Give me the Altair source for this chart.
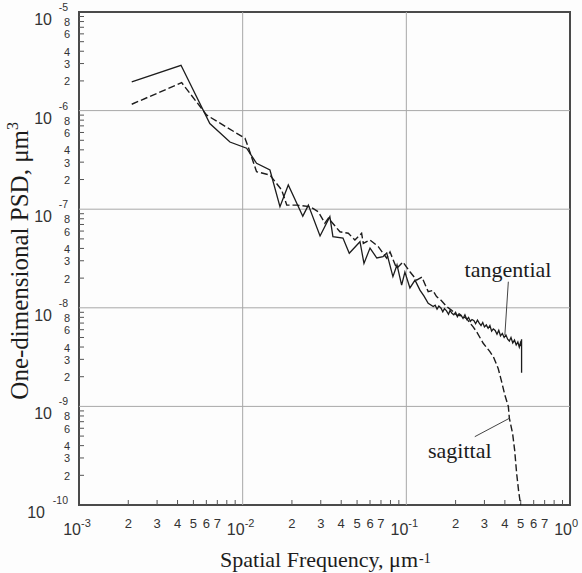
import altair as alt
import pandas as pd

# ---------------- data ----------------
tan_f = [0.0021, 0.0042, 0.0063, 0.00836, 0.01057, 0.01216, 0.01468, 0.0169, 0.019, 0.0233,
         0.0252, 0.0297, 0.0341, 0.0356, 0.041, 0.0448, 0.0521, 0.0551, 0.060, 0.066,
         0.072, 0.0759, 0.0828, 0.0877, 0.0936, 0.098, 0.1052, 0.113, 0.1211, 0.128,
         0.136, 0.146,
         0.150, 0.154, 0.158, 0.163, 0.167, 0.171, 0.176, 0.181, 0.185, 0.190,
         0.195, 0.200, 0.205, 0.210, 0.216, 0.222, 0.228, 0.234, 0.240, 0.246,
         0.252, 0.259, 0.265, 0.272, 0.279, 0.286, 0.293, 0.300, 0.308, 0.316,
         0.324, 0.332, 0.340, 0.349, 0.358, 0.367, 0.376, 0.386, 0.396, 0.406,
         0.416, 0.426, 0.436, 0.447, 0.458, 0.469, 0.480, 0.490, 0.498, 0.503,
         0.506, 0.506]
tan_psd = [1.96e-6, 2.88e-6, 7.4e-7, 4.8e-7, 4.15e-7, 2.92e-7, 2.5e-7, 1.06e-7, 1.76e-7, 8.5e-8,
           1.1e-7, 5.35e-8, 8.4e-8, 5.26e-8, 5.1e-8, 3.57e-8, 4.68e-8, 2.82e-8, 4.04e-8, 3.2e-8,
           3.3e-8, 3.6e-8, 2.07e-8, 2.72e-8, 1.7e-8, 2.3e-8, 1.59e-8, 1.91e-8, 1.51e-8, 1.32e-8,
           1.11e-8, 1.03e-8,
           1.06e-8, 9.7e-9, 1.04e-8, 9.9e-9, 9.1e-9, 9.8e-9, 9.3e-9, 8.6e-9, 9.4e-9, 8.8e-9,
           8.5e-9, 9.0e-9, 8.1e-9, 8.7e-9, 8.4e-9, 7.8e-9, 8.5e-9, 7.6e-9, 8.0e-9, 7.3e-9,
           7.6e-9, 7.4e-9, 6.9e-9, 7.5e-9, 7.0e-9, 6.6e-9, 7.1e-9, 6.4e-9, 6.7e-9, 6.2e-9,
           6.6e-9, 5.8e-9, 6.1e-9, 5.9e-9, 5.4e-9, 5.9e-9, 5.2e-9, 5.5e-9, 5.0e-9, 5.3e-9,
           4.8e-9, 4.6e-9, 5.0e-9, 4.4e-9, 4.7e-9, 4.2e-9, 4.5e-9, 4.0e-9, 4.4e-9, 4.1e-9,
           4.8e-9, 2.2e-9]

sag_f = [0.0021, 0.00424, 0.00603, 0.01033, 0.0108, 0.01216, 0.01468, 0.0173, 0.0186, 0.0214,
         0.0258, 0.029, 0.0318, 0.0334, 0.0393, 0.0442, 0.0485, 0.0533, 0.0546, 0.060,
         0.0674, 0.0759, 0.0795, 0.0873, 0.0953, 0.1052, 0.1156, 0.1245, 0.136, 0.145,
         0.153, 0.164, 0.176, 0.190, 0.203, 0.218, 0.233, 0.245, 0.256, 0.2685,
         0.295, 0.324, 0.340, 0.364, 0.380, 0.400, 0.420, 0.426, 0.446, 0.459,
         0.472, 0.485, 0.499]
sag_psd = [1.16e-6, 1.92e-6, 9.0e-7, 5.24e-7, 4.3e-7, 2.4e-7, 2.22e-7, 1.57e-7, 1.1e-7, 1.1e-7,
           1.06e-7, 9.4e-8, 7.2e-8, 8.1e-8, 5.9e-8, 5.7e-8, 4.87e-8, 5.7e-8, 4.5e-8, 4.87e-8,
           4.17e-8, 3.18e-8, 3.68e-8, 2.51e-8, 2.91e-8, 2.32e-8, 1.91e-8, 2.05e-8, 1.46e-8, 1.5e-8,
           1.3e-8, 1.18e-8, 1.03e-8, 9.4e-9, 8.45e-9, 8.3e-9, 7.8e-9, 7.0e-9, 6.4e-9, 5.73e-9,
           4.37e-9, 3.59e-9, 3.19e-9, 2.43e-9, 1.85e-9, 1.3e-9, 1.0e-9, 7.6e-10, 5.3e-10, 3.6e-10,
           2.1e-10, 1.4e-10, 1.0e-10]

# annotations
tan_label = "tangential"
tan_label_pos = [0.418, 2.41e-8]
tan_leader_f = [0.420, 0.400]
tan_leader_psd = [1.84e-8, 5.3e-9]
sag_label = "sagittal"
sag_label_pos = [0.212, 3.56e-10]
sag_leader_f = [0.262, 0.426]
sag_leader_psd = [4.93e-10, 7.57e-10]

# axes
x_title = "Spatial Frequency, μm"
x_title_exp = "-1"
y_title = "One-dimensional PSD, μm"
y_title_exp = "3"
x_grid = [1e-2, 1e-1]
y_grid = [1e-6, 1e-7, 1e-8, 1e-9]
x_major = [1e-3, 1e-2, 1e-1, 1e0]
x_major_exp = ["-3", "-2", "-1", "0"]
y_major = [1e-5, 1e-6, 1e-7, 1e-8, 1e-9, 1e-10]
y_major_exp = ["-5", "-6", "-7", "-8", "-9", "-10"]
x_minor = [2e-3, 3e-3, 4e-3, 5e-3, 6e-3, 7e-3, 8e-3, 9e-3,
           2e-2, 3e-2, 4e-2, 5e-2, 6e-2, 7e-2, 8e-2, 9e-2,
           2e-1, 3e-1, 4e-1, 5e-1, 6e-1, 7e-1, 8e-1, 9e-1]
x_minor_lab = ["2", "3", "4", "5", "6", "7", "", ""] * 3
y_minor = [m * 10.0 ** e for e in (-10, -9, -8, -7, -6) for m in (2, 3, 4, 5, 6, 7, 8, 9)]
y_minor_lab = ["2", "3", "4", "", "6", "", "8", ""] * 5

# ---------------- chart ----------------
W, H = 491, 493
XS = alt.Scale(type="log", domain=[1e-3, 1])
YS = alt.Scale(type="log", domain=[1e-10, 1e-5])
INK = "#1c1c1c"
AX = "#333333"
SANS = "Liberation Sans"
SERIF = "Liberation Serif"


def X(field="f"):
    return alt.X(f"{field}:Q", scale=XS, axis=None)


def Y(field="psd"):
    return alt.Y(f"{field}:Q", scale=YS, axis=None)


grid_v = alt.Chart(pd.DataFrame({"f": x_grid})).mark_rule(color="#a8a8a8", strokeWidth=1).encode(x=X())
grid_h = alt.Chart(pd.DataFrame({"psd": y_grid})).mark_rule(color="#a8a8a8", strokeWidth=1).encode(y=Y())

ticks_x = alt.Chart(pd.DataFrame({"f": x_minor})).mark_rule(color="#555555", strokeWidth=1).encode(
    x=X(), y=alt.value(H), y2=alt.value(H - 5))
ticks_y = alt.Chart(pd.DataFrame({"psd": y_minor})).mark_rule(color="#555555", strokeWidth=1).encode(
    y=Y(), x=alt.value(0), x2=alt.value(5))

tan_df = pd.DataFrame({"f": tan_f, "psd": tan_psd, "i": list(range(len(tan_f)))})
sag_df = pd.DataFrame({"f": sag_f, "psd": sag_psd, "i": list(range(len(sag_f)))})

tan_line = alt.Chart(tan_df).mark_line(color=INK, strokeWidth=1.3, clip=True).encode(
    x=X(), y=Y(), order="i:Q")
sag_line = alt.Chart(sag_df).mark_line(color=INK, strokeWidth=1.4, strokeDash=[7, 3], clip=True).encode(
    x=X(), y=Y(), order="i:Q")

leaders = alt.Chart(pd.DataFrame({
    "f": [tan_leader_f[0], sag_leader_f[0]], "psd": [tan_leader_psd[0], sag_leader_psd[0]],
    "f2": [tan_leader_f[1], sag_leader_f[1]], "psd2": [tan_leader_psd[1], sag_leader_psd[1]],
})).mark_rule(color="#444444", strokeWidth=1).encode(x=X(), y=Y(), x2="f2:Q", y2="psd2:Q")

ann = alt.Chart(pd.DataFrame({
    "f": [tan_label_pos[0], sag_label_pos[0]], "psd": [tan_label_pos[1], sag_label_pos[1]],
    "t": [tan_label, sag_label]})).mark_text(
    font=SERIF, fontSize=22, color=INK, align="center", baseline="middle").encode(
    x=X(), y=Y(), text="t:N")

# tick labels
xminor_lab = alt.Chart(pd.DataFrame({"f": x_minor, "t": x_minor_lab})).mark_text(
    font=SANS, fontSize=13, color=AX, align="center", baseline="middle").encode(
    x=X(), y=alt.value(H + 19), text="t:N")
xmaj_base = alt.Chart(pd.DataFrame({"f": x_major, "t": ["10"] * len(x_major)})).mark_text(
    font=SANS, fontSize=16, color=AX, align="right", baseline="alphabetic", dx=2).encode(
    x=X(), y=alt.value(H + 30), text="t:N")
xmaj_exp = alt.Chart(pd.DataFrame({"f": x_major, "t": x_major_exp})).mark_text(
    font=SANS, fontSize=11, color=AX, align="left", baseline="alphabetic", dx=2).encode(
    x=X(), y=alt.value(H + 22), text="t:N")

yminor_lab = alt.Chart(pd.DataFrame({"psd": y_minor, "t": y_minor_lab})).mark_text(
    font=SANS, fontSize=11, color=AX, align="right", baseline="middle", dy=1.5).encode(
    y=Y(), x=alt.value(-9), text="t:N")
ymaj_exp = alt.Chart(pd.DataFrame({"psd": y_major, "t": y_major_exp})).mark_text(
    font=SANS, fontSize=10.5, color=AX, align="right", baseline="alphabetic", dy=-1).encode(
    y=Y(), x=alt.value(-11), text="t:N")
ymaj_df = pd.DataFrame({"psd": y_major, "e": y_major_exp, "t": ["10"] * len(y_major)})
ymaj_base_short = alt.Chart(ymaj_df).transform_filter("length(datum.e) <= 2").mark_text(
    font=SANS, fontSize=16, color=AX, align="right", baseline="alphabetic", dy=13).encode(
    y=Y(), x=alt.value(-27), text="t:N")
ymaj_base_long = alt.Chart(ymaj_df).transform_filter("length(datum.e) > 2").mark_text(
    font=SANS, fontSize=16, color=AX, align="right", baseline="alphabetic", dy=13).encode(
    y=Y(), x=alt.value(-34), text="t:N")

# titles
xt = alt.Chart(pd.DataFrame({"t": [x_title]})).mark_text(
    font=SERIF, fontSize=22, color=INK, align="right", baseline="alphabetic").encode(
    x=alt.value(339), y=alt.value(555), text="t:N")
xt_exp = alt.Chart(pd.DataFrame({"t": [x_title_exp]})).mark_text(
    font=SERIF, fontSize=14, color=INK, align="left", baseline="alphabetic").encode(
    x=alt.value(340), y=alt.value(551), text="t:N")
yt = alt.Chart(pd.DataFrame({"t": [y_title]})).mark_text(
    font=SERIF, fontSize=25, color=INK, align="right", baseline="middle", angle=270).encode(
    x=alt.value(-59), y=alt.value(118), text="t:N")
yt_exp = alt.Chart(pd.DataFrame({"t": [y_title_exp]})).mark_text(
    font=SERIF, fontSize=16, color=INK, align="left", baseline="middle", angle=270, dy=-7).encode(
    x=alt.value(-59), y=alt.value(118), text="t:N")

chart = alt.layer(
    grid_v, grid_h, ticks_x, ticks_y, sag_line, tan_line, leaders, ann,
    xminor_lab, xmaj_base, xmaj_exp, yminor_lab, ymaj_exp, ymaj_base_short, ymaj_base_long,
    xt, xt_exp, yt, yt_exp,
).properties(
    width=W, height=H,
    padding={"left": 79, "top": 12, "right": 12, "bottom": 68},
    autosize=alt.AutoSizeParams(type="none"),
    background="#fdfdfd",
).configure_view(stroke="#4a4a4a", strokeWidth=2)

chart.save("out.html", embed_options={"renderer": "svg", "actions": False})
